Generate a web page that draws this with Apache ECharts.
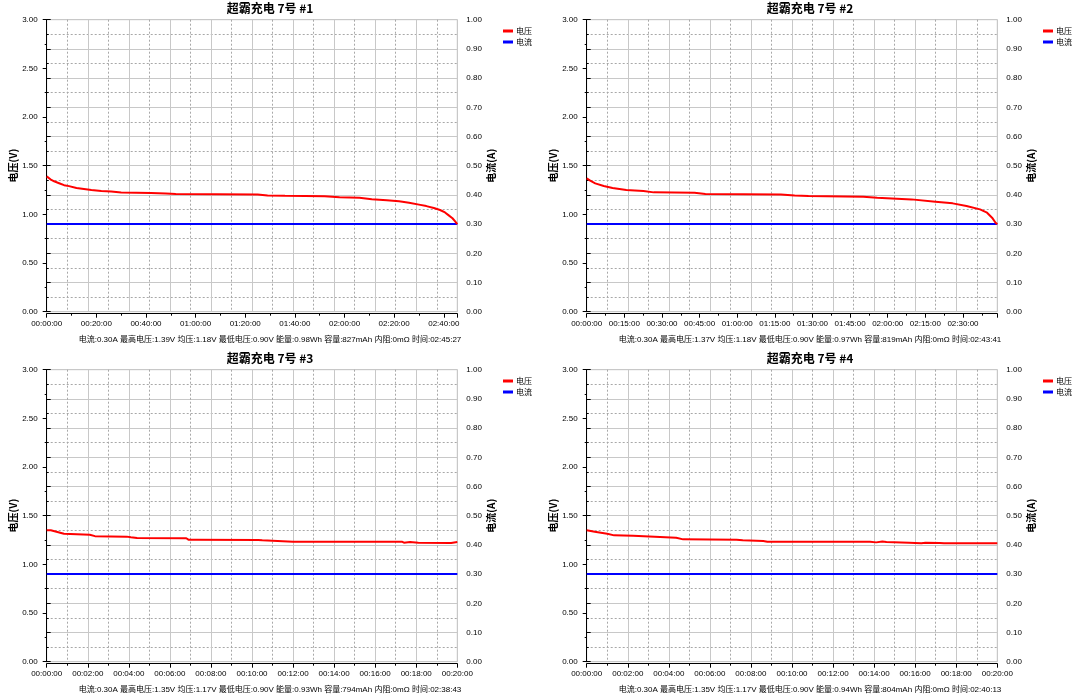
<!DOCTYPE html>
<html>
<head>
<meta charset="utf-8">
<script src="https://cdn.jsdelivr.net/npm/echarts@6/dist/echarts.min.js"></script>
<style>
html,body{margin:0;padding:0;background:#fff;}
#chart{width:1080px;height:699px;}
</style>
</head>
<body>
<div id="chart"></div>
<script>
// ---------- data ----------
const titles = ['超霸充电 7号 #1', '超霸充电 7号 #2', '超霸充电 7号 #3', '超霸充电 7号 #4'];
const footers = [
  '电流:0.30A 最高电压:1.39V 均压:1.18V 最低电压:0.90V 能量:0.98Wh 容量:827mAh 内阻:0mΩ 时间:02:45:27',
  '电流:0.30A 最高电压:1.37V 均压:1.18V 最低电压:0.90V 能量:0.97Wh 容量:819mAh 内阻:0mΩ 时间:02:43:41',
  '电流:0.30A 最高电压:1.35V 均压:1.17V 最低电压:0.90V 能量:0.93Wh 容量:794mAh 内阻:0mΩ 时间:02:38:43',
  '电流:0.30A 最高电压:1.35V 均压:1.17V 最低电压:0.90V 能量:0.94Wh 容量:804mAh 内阻:0mΩ 时间:02:40:13'
];
const legendNames = ['电压', '电流'];
// x axis extent (minutes) and tick interval (minutes)
const xMax = [165.45, 163.683, 20, 20];
const xInterval = [20, 15, 2, 2];

// time in minutes, voltage in V
const t1 = [0, 0.5, 1.5, 3, 5, 7, 9, 12, 15, 18, 22, 26, 30, 42, 48, 52, 85, 89, 96, 112, 118, 126, 131, 137, 142, 146, 150, 153, 156, 158.5, 160.5, 162, 163.5, 164.5, 165.45];
const v1 = [1.39, 1.38, 1.36, 1.34, 1.32, 1.30, 1.29, 1.27, 1.26, 1.25, 1.24, 1.235, 1.225, 1.22, 1.215, 1.21, 1.205, 1.195, 1.19, 1.185, 1.175, 1.17, 1.155, 1.145, 1.135, 1.12, 1.10, 1.085, 1.065, 1.045, 1.02, 0.99, 0.96, 0.93, 0.90];

const t2 = [0, 1.4, 3.4, 6.8, 10.3, 15.8, 22.6, 26.7, 43, 47.3, 77.4, 82.9, 88.4, 110.3, 115.8, 129.5, 139, 145.9, 151.4, 156.8, 159.6, 161.6, 163, 163.683];
const v2 = [1.37, 1.346, 1.318, 1.291, 1.271, 1.25, 1.24, 1.226, 1.223, 1.209, 1.205, 1.195, 1.188, 1.182, 1.171, 1.154, 1.13, 1.113, 1.086, 1.051, 1.017, 0.966, 0.914, 0.90];

const t3 = [0, 0.2, 0.22, 0.84, 2.1, 2.35, 3.9, 4.1, 4.4, 6.8, 6.9, 7.3, 10.3, 10.5, 12, 17.3, 17.4, 17.7, 18.1, 19.7, 20];
const v3 = [1.35, 1.35, 1.335, 1.315, 1.305, 1.29, 1.285, 1.278, 1.27, 1.268, 1.254, 1.254, 1.25, 1.247, 1.233, 1.233, 1.223, 1.23, 1.223, 1.22, 1.23];

const t4 = [0, 0.05, 0.39, 0.42, 1.0, 1.34, 2.26, 2.35, 4.36, 4.7, 7.3, 7.6, 8.6, 8.8, 13.8, 14.1, 14.4, 14.6, 15.7, 16.3, 16.5, 17.2, 17.4, 20];
const v4 = [1.35, 1.335, 1.335, 1.315, 1.315, 1.298, 1.295, 1.281, 1.274, 1.257, 1.254, 1.247, 1.24, 1.233, 1.233, 1.226, 1.236, 1.229, 1.223, 1.216, 1.223, 1.22, 1.216, 1.216];

// current (A)
const current = [0.30, 0.30, 0.30, 0.30];

// ---------- build ----------
const times = [t1, t2, t3, t4];
const volts = [v1, v2, v3, v4];
const offX = [0, 540, 0, 540];
const offY = [0, 0, 350, 350];
const PW = 410.6, PH = 292;
const FONT = "'Liberation Sans Narrow', 'Liberation Sans', Arial, 'Noto Sans CJK SC', sans-serif";
const CJK = "'Noto Sans CJK SC', 'Liberation Sans', sans-serif";

function fmtTime(m) {
  const s = Math.round(m * 60);
  const h = Math.floor(s / 3600), mm = Math.floor((s % 3600) / 60), ss = s % 60;
  const p = n => String(n).padStart(2, '0');
  return p(h) + ':' + p(mm) + ':' + p(ss);
}

const option = {
  animation: false,
  backgroundColor: '#fff',
  textStyle: { fontFamily: FONT },
  title: [], legend: [], grid: [], xAxis: [], yAxis: [], series: []
};

for (let i = 0; i < 4; i++) {
  const ox = offX[i], oy = offY[i];
  option.title.push({
    text: titles[i], left: 270 + ox, top: oy + 2, textAlign: 'center', padding: 0,
    textStyle: { fontSize: 12, fontWeight: 'bold', color: '#000', fontFamily: CJK }
  });
  option.title.push({
    text: footers[i], left: 270 + ox, top: oy + 336, textAlign: 'center', padding: 0,
    textStyle: { fontSize: 8, fontWeight: 'normal', color: '#000', fontFamily: FONT }
  });
  option.legend.push({
    data: legendNames, left: 503 + ox, top: oy + 27, orient: 'vertical', padding: 0,
    icon: 'rect', itemWidth: 10, itemHeight: 3, itemGap: 3,
    textStyle: { fontSize: 8, color: '#000', fontFamily: CJK, padding: [0, 0, 0, -2] }
  });
  option.grid.push({
    left: 46.7 + ox, top: 19.7 + oy, width: PW, height: PH,
    show: true, borderColor: '#c4c4c4', borderWidth: 1, backgroundColor: '#fff'
  });
  // main time axis
  option.xAxis.push({
    gridIndex: i, type: 'value', position: 'bottom', min: 0, max: xMax[i], interval: xInterval[i],
    offset: 2,
    axisLine: { show: true, onZero: false, lineStyle: { color: '#000', width: 1 } },
    axisTick: { show: true, length: 4, lineStyle: { color: '#000' } },
    minorTick: { show: true, splitNumber: 2, length: 2, lineStyle: { color: '#000' } },
    splitLine: { show: false },
    axisLabel: { fontSize: 8, color: '#000', margin: 6, formatter: fmtTime, showMaxLabel: i >= 2, showMinLabel: true }
  });
  // fixed 10-division vertical grid
  option.xAxis.push({
    gridIndex: i, type: 'value', position: 'top', min: 0, max: 10, interval: 1,
    axisLine: { show: false }, axisTick: { show: false }, axisLabel: { show: false },
    splitLine: { show: true, lineStyle: { color: '#c8c8c8', width: 1 } },
    minorTick: { show: false, splitNumber: 2 },
    minorSplitLine: { show: true, lineStyle: { color: '#a8a8a8', width: 1, type: [2, 2] } }
  });
  option.yAxis.push({
    gridIndex: i, type: 'value', position: 'left', min: 0, max: 3, interval: 0.5, offset: 3,
    name: '电压(V)', nameLocation: 'middle', nameGap: 25,
    nameTextStyle: { fontSize: 10, fontWeight: 'bold', color: '#000', fontFamily: CJK },
    axisLine: { show: true, lineStyle: { color: '#000' } },
    axisTick: { show: true, length: 4, lineStyle: { color: '#000' } },
    minorTick: { show: true, splitNumber: 2, length: 2, lineStyle: { color: '#000' } },
    splitLine: { show: false },
    axisLabel: { fontSize: 8, color: '#000', margin: 6, formatter: v => v.toFixed(2) }
  });
  option.yAxis.push({
    gridIndex: i, type: 'value', position: 'right', min: 0, max: 1, interval: 0.1, offset: 3,
    name: '电流(A)', nameLocation: 'middle', nameGap: 22,
    nameTextStyle: { fontSize: 10, fontWeight: 'bold', color: '#000', fontFamily: CJK },
    axisLine: { show: true, lineStyle: { color: '#000' } },
    axisTick: { show: true, length: 4, lineStyle: { color: '#000' } },
    minorTick: { show: true, splitNumber: 2, length: 2, lineStyle: { color: '#000' } },
    splitLine: { show: true, lineStyle: { color: '#c8c8c8', width: 1 } },
    minorSplitLine: { show: true, lineStyle: { color: '#a8a8a8', width: 1, type: [2, 2] } },
    axisLabel: { fontSize: 8, color: '#000', margin: 6, formatter: v => v.toFixed(2) }
  });
  option.series.push({
    name: '电流', type: 'line', xAxisIndex: i * 2, yAxisIndex: i * 2 + 1,
    data: [[0, current[i]], [xMax[i], current[i]]],
    showSymbol: false, symbol: 'none', color: '#0000ff',
    lineStyle: { color: '#0000ff', width: 2 }, z: 2
  });
  option.series.push({
    name: '电压', type: 'line', xAxisIndex: i * 2, yAxisIndex: i * 2,
    data: times[i].map((t, k) => [t, volts[i][k]]),
    showSymbol: false, symbol: 'none', color: '#ff0000',
    lineStyle: { color: '#ff0000', width: 2 }, z: 3
  });
}

const chart = echarts.init(document.getElementById('chart'), null, { renderer: 'canvas' });
chart.setOption(option);
</script>
</body>
</html>
